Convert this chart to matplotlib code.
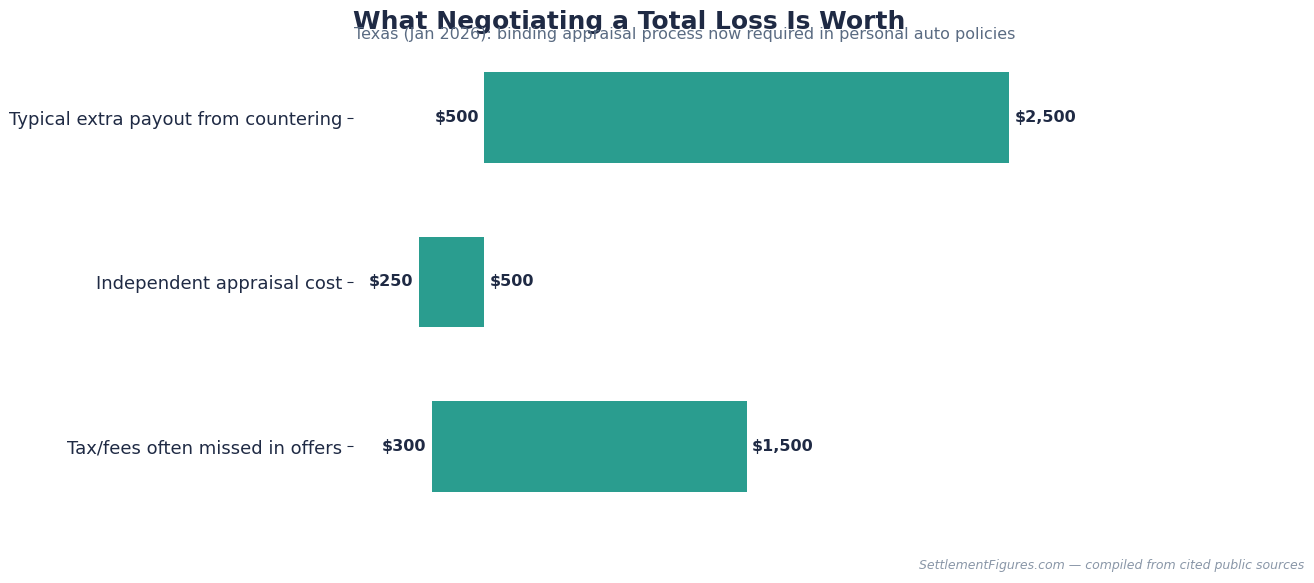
import matplotlib
matplotlib.use('Agg')
import matplotlib.pyplot as plt

categories = ['Typical extra payout from countering',
              'Independent appraisal cost',
              'Tax/fees often missed in offers']
low = [500, 250, 300]
high = [2500, 500, 1500]

dark = '#1f2a44'
teal = '#2a9d8f'

fig = plt.figure(figsize=(13.14, 5.83), dpi=100)
ax = fig.add_axes([353 / 1314, 1 - 512.5 / 583, (1304 - 353) / 1314, 461 / 583])

y = list(range(len(categories)))
ax.barh(y, [h - l for l, h in zip(low, high)], left=low, height=0.55, color=teal)

for yi, l, h in zip(y, low, high):
    ax.text(l - 20, yi, '${:,}'.format(l), ha='right', va='center',
            fontsize=11.5, fontweight='bold', color=dark)
    ax.text(h + 20, yi, '${:,}'.format(h), ha='left', va='center',
            fontsize=11.5, fontweight='bold', color=dark)

ax.set_xlim(0, 3623)
ax.set_yticks(y)
ax.set_yticklabels(categories, fontsize=13, color=dark)
ax.invert_yaxis()
ax.set_xticks([])
for s in ax.spines.values():
    s.set_visible(False)
ax.tick_params(axis='y', colors=dark, labelcolor=dark, length=4)

# title and subtitle overlap slightly, as in the source
fig.text(353 / 1314, 1 - 22 / 583, 'What Negotiating a Total Loss Is Worth',
         fontsize=18, fontweight='bold', color=dark, va='center', ha='left')
fig.text(354 / 1314, 1 - 34 / 583,
         'Texas (Jan 2026): binding appraisal process now required in personal auto policies',
         fontsize=11.5, color='#5a6b82', va='center', ha='left')
fig.text(1304 / 1314, 1 - 566 / 583,
         'SettlementFigures.com \u2014 compiled from cited public sources',
         fontsize=9, style='italic', color='#8a97a8', ha='right', va='center')

fig.savefig('out.png', dpi=100)
